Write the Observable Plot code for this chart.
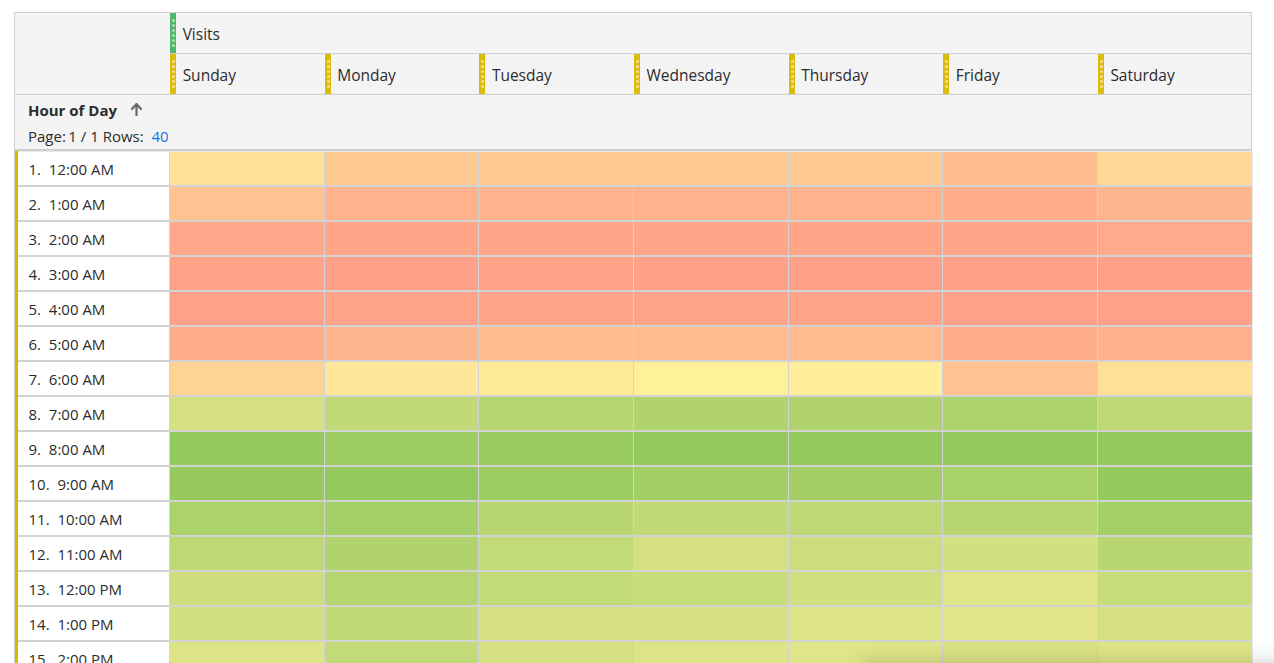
<!DOCTYPE html>
<html>
<head>
<meta charset="utf-8">
<script src="https://cdn.jsdelivr.net/npm/d3@7"></script>
<script src="https://cdn.jsdelivr.net/npm/@observablehq/plot@0.6"></script>
<style>
html,body{margin:0;padding:0;background:#fff;overflow:hidden;width:1274px;height:663px}
body{font-family:"Open Sans","Noto Sans",sans-serif;color:#2c2c2c}
#wrap{position:relative;width:1274px;height:663px;overflow:hidden}
#wrap svg.plot{position:absolute;left:0;top:0}
svg text{white-space:pre}
.abs{position:absolute;box-sizing:border-box}
.hdrbox{left:14px;top:12px;width:1238px;height:139px;background:#f4f4f4;border:1px solid #d0d0d0;border-bottom:none}
.hline{height:1px;background:#d0d0d0}
.marker{width:6px;height:40px}
.marker i{position:absolute;left:1.5px;width:3px;height:3px;border-radius:50%;background:rgba(255,255,255,0.55)}
.hlabel{font-size:15.5px;line-height:20px;color:#2c2c2c;white-space:nowrap}
.gold{left:15px;top:151px;width:3px;height:530px;background:#d9b800}
.lborder{left:14px;top:151px;width:1px;height:530px;background:#d0d0d0}
.shadow{left:870px;top:674px;width:430px;height:80px;background:#fff;box-shadow:0 0 22px 9px rgba(0,0,0,0.24)}
</style>
</head>
<body>
<div id="wrap"></div>
<script>
const metric = "Visits";
const days = ["Sunday","Monday","Tuesday","Wednesday","Thursday","Friday","Saturday"];
const hours = ["12:00 AM","1:00 AM","2:00 AM","3:00 AM","4:00 AM","5:00 AM","6:00 AM","7:00 AM",
               "8:00 AM","9:00 AM","10:00 AM","11:00 AM","12:00 PM","1:00 PM","2:00 PM"];
const sunday    = [41,21,5,1,1, 8,32,70,100, 99,89,81,73,72,66];
const monday    = [26,11,4,0,2,13,44,79, 96,100,92,87,85,79,78];
const tuesday   = [26,11,4,1,2,16,46,85, 98, 96,83,78,78,70,70];
const wednesday = [26,11,4,0,2,18,50,87,100, 94,79,70,76,69,66];
const thursday  = [26,11,4,0,2,17,49,87,100, 93,81,74,72,66,64];
const friday    = [19, 8,3,0,1, 8,21,89,100, 90,83,71,64,63,67];
const saturday  = [35,13,6,0,1,10,40,80,100,100,92,83,76,70,64];
const series = [sunday,monday,tuesday,wednesday,thursday,friday,saturday];
const totalRows = 40;

const cells = [];
days.forEach((d, j) => series[j].forEach((v, i) => cells.push({day: d, hour: hours[i], v})));

const wrap = document.getElementById("wrap");
function add(cls, css, html) {
  const el = document.createElement("div");
  el.className = "abs " + cls;
  if (css) el.style.cssText = css;
  if (html != null) el.innerHTML = html;
  wrap.appendChild(el);
  return el;
}

const chart = Plot.plot({
  width: 1274, height: 676,
  marginTop: 151, marginLeft: 15, marginRight: 22, marginBottom: 0,
  x: {domain: ["", ...days], padding: 0, round: false, axis: null},
  y: {domain: hours, padding: 0, round: false, axis: null},
  color: {type: "linear", domain: [0, 50, 100], range: ["#ffa088", "#fff09a", "#94c95e"], interpolate: "rgb"},
  style: {background: "transparent", fontFamily: '"Open Sans","Noto Sans",sans-serif', fontSize: "15px", color: "#2c2c2c"},
  marks: [
    Plot.frame({fill: "#d3d3d3", stroke: null}),
    Plot.cell(hours, {x: () => "", y: d => d, fill: "#ffffff", insetTop: 1, insetBottom: 1, insetRight: 1, shapeRendering: "crispEdges"}),
    Plot.cell(cells, {x: "day", y: "hour", fill: "v", insetTop: 1, insetBottom: 1, insetLeft: 0.5, insetRight: 0.5, shapeRendering: "crispEdges"}),
    Plot.text(hours, {y: d => d, text: (d, i) => `${i + 1}.  ${d}`, frameAnchor: "left", dx: 13, dy: 1, textAnchor: "start", fill: "#2c2c2c"})
  ]
});
chart.classList.add("plot");

// header chrome (drawn behind the svg)
add("hdrbox");
wrap.appendChild(chart);
const xs = chart.scale("x");
const colX = d => xs.apply(d);
add("hline", `left:${colX(days[0])}px;top:53px;width:${1252 - colX(days[0])}px`);
add("hline", `left:14px;top:94px;width:1238px`);
add("hline", `left:14px;top:149px;width:1238px;height:2px;background:#cfcfcf`);
add("lborder");
add("gold");

function marker(x, top, color) {
  const m = add("marker", `left:${Math.round(x)}px;top:${top}px;background:${color}`);
  for (let k = 0; k < 6; k++) {
    const dot = document.createElement("i");
    dot.style.top = (6 + k * 5) + "px";
    m.appendChild(dot);
  }
}
marker(colX(days[0]) + 0.5, 13, "#4fb86a");
add("hlabel", `left:${colX(days[0]) + 13}px;top:24px`, metric);
days.forEach(d => {
  marker(colX(d) + 0.5, 54, "#dcbb0a");
  add("hlabel", `left:${colX(d) + 13}px;top:65px`, d);
});
add("hlabel", `left:28px;top:100px;font-weight:700;font-size:15px`, "Hour of Day");
add("hlabel", `left:131px;top:103px;line-height:0`,
    `<svg width="11" height="13" viewBox="0 0 11 13"><path d="M5.5 1 L1 6 M5.5 1 L10 6 M5.5 1 L5.5 12.5" stroke="#6b6b6b" stroke-width="2.2" fill="none" stroke-linecap="round"/></svg>`);
add("hlabel", `left:28px;top:126px;font-size:15px;width:140px;overflow:hidden`,
    `Page:&thinsp;1 / 1 Rows:&nbsp; <span style="color:#1473e6">${totalRows}</span>`);
add("shadow");
</script>
</body>
</html>
